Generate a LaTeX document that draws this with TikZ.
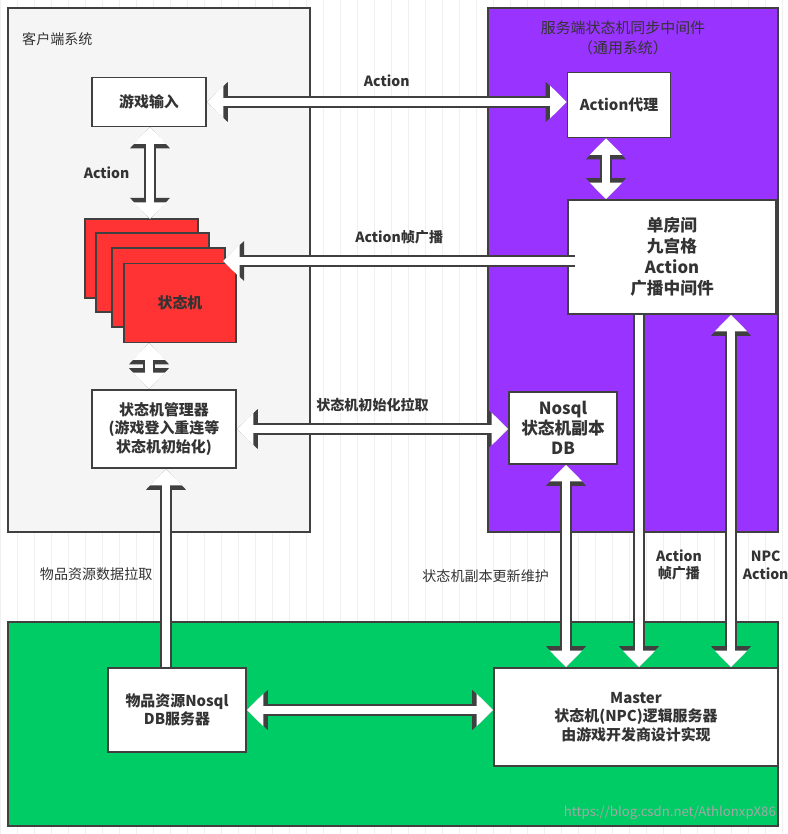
\documentclass[tikz,border=0pt]{standalone}
\usepackage{fontspec}
\setmainfont{Noto Sans CJK SC}
\usetikzlibrary{arrows.meta}
\definecolor{frameln}{RGB}{64,64,64}
\definecolor{srvpurple}{RGB}{153,51,255}
\definecolor{dbgreen}{RGB}{0,204,102}
\definecolor{smred}{RGB}{255,51,51}
\definecolor{txt}{RGB}{51,51,51}
\tikzset{
  area/.style = {draw=frameln, line width=1pt},
  box/.style 2 args = {draw=frameln, line width=0.8pt, fill=white, align=center, text=txt,
    font=\bfseries\fontsize{8.5}{10.5}\selectfont, inner sep=0pt,
    minimum width={#1*0.02cm}, minimum height={#2*0.02cm}},
  lbl/.style = {text=txt, align=center, font=\fontsize{8}{10}\selectfont},
  blbl/.style = {text=txt, align=center, font=\bfseries\fontsize{8}{10}\selectfont},
  both/.style = {preaction={draw=frameln, line width=7pt, arrows={Triangle[width=22pt,length=12pt]-Triangle[width=22pt,length=12pt]}},
                 draw=white, line width=4.8pt, arrows={Triangle[width=18pt,length=9.5pt]-Triangle[width=18pt,length=9.5pt]}},
  one/.style = {preaction={draw=frameln, line width=7pt, arrows={-Triangle[width=22pt,length=12pt]}},
                draw=white, line width=4.8pt, arrows={-Triangle[width=18pt,length=9.5pt]}}
}
\begin{document}
\begin{tikzpicture}[x=0.02cm,y=-0.02cm]
\useasboundingbox (0,0) rectangle (787,834);
\draw[gray!12, step=17] (0,0) grid (787,834);

% areas
\filldraw[area, fill=gray!8] (8,8) rectangle (310,532);
\filldraw[area, fill=srvpurple] (488,8) rectangle (778,532);
\filldraw[area, fill=dbgreen] (8,622) rectangle (778,826);
\node[lbl, anchor=west] (client) at (16,39) {客户端系统};
\node[lbl, font=\fontsize{8.5}{11}\selectfont] (server) at (623,38) {服务端状态机同步中间件\\（通用系统）};

% client side
\node[box={114}{49}] (input) at (149,102) {游戏输入};
\foreach \x/\y in {85/219, 96/233, 112/248}
  \filldraw[draw=frameln, line width=0.8pt, fill=smred] (\x,\y) rectangle +(113,79);
\node[box={112}{79}, fill=smred] (sm) at (180,303) {状态机};
\node[box={144}{78}] (mgr) at (164,429) {状态机管理器\\(游戏登入重连等\\状态机初始化)};

% server side
\node[box={103}{65}] (proxy) at (619,105) {Action代理};
\node[box={208}{114}, font=\bfseries\fontsize{9.5}{12}\selectfont] (room) at (672,257) {单房间\\九宫格\\Action\\广播中间件};
\node[box={108}{72}, font=\bfseries\fontsize{9.5}{11.5}\selectfont] (nosql) at (563,428) {Nosql\\状态机副本\\DB};

% db side
\node[box={138}{84}] (items) at (177,710) {物品资源Nosql\\DB服务器};
\node[box={284}{98}] (master) at (636,717) {Master\\状态机(NPC)逻辑服务器\\由游戏开发商设计实现};

% connectors
\draw[both] (input.east) -- (proxy.west |- input.east) node[blbl, midway, above=3pt] {Action};
\draw[both] (input.south -| 150,0) -- (150,219) node[blbl, midway, left=6pt] {Action};
\draw[one] (room.west |- 0,261) ++(8,0) -- (223,261) node[blbl, midway, above=4pt] {Action帧广播};
\draw[both] (proxy.south -| 606,0) -- (room.north -| 606,0);
\draw[both] (sm.south -| 149,0) -- (mgr.north -| 149,0);
\draw[both] (mgr.east) -- (nosql.west |- mgr.east) node[blbl, midway, above=4pt] {状态机初始化拉取};
\draw[one] (items.north -| 166,0) -- (mgr.south -| 166,0) node[lbl, pos=0.47, left=2pt] {物品资源数据拉取};
\draw[both] (nosql.south -| 566,0) -- (master.north -| 566,0) node[lbl, pos=0.55, left=4pt] {状态机副本更新维护};
\draw[one] (room.south -| 639,0) -- (master.north -| 639,0) node[blbl, pos=0.71, right=4pt] {Action\\帧广播};
\draw[both] (room.south -| 731,0) -- (master.north -| 731,0) node[blbl, pos=0.71, right=1pt] {NPC\\Action};
\draw[both] (items.east) -- (master.west |- items.east);
\node[lbl, anchor=south east, text=gray!70, font=\fontsize{7.5}{9}\selectfont] (mark) at (782,826) {https://blog.csdn.net/AthlonxpX86};
\end{tikzpicture}
\end{document}
